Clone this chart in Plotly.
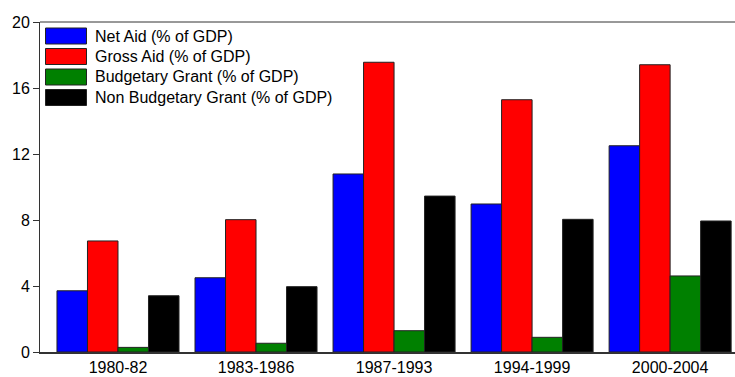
import plotly.graph_objects as go

categories = ["1980-82", "1983-1986", "1987-1993", "1994-1999", "2000-2004"]
series_names = ["Net Aid (% of GDP)", "Gross Aid (% of GDP)",
                "Budgetary Grant (% of GDP)", "Non Budgetary Grant (% of GDP)"]
net_aid = [3.71, 4.50, 10.79, 8.97, 12.50]
gross_aid = [6.73, 8.02, 17.56, 15.29, 17.41]
budgetary_grant = [0.28, 0.53, 1.29, 0.89, 4.61]
non_budgetary_grant = [3.41, 3.96, 9.45, 8.04, 7.94]
y_ticks = [0, 4, 8, 12, 16, 20]

colors = ["#0000FF", "#FF0000", "#008000", "#000000"]
values = [net_aid, gross_aid, budgetary_grant, non_budgetary_grant]

FONT = "Liberation Sans, Arial, sans-serif"
W, H = 735, 377
ML, MR, MT, MB = 40, 0, 22, 25
PW, PH = W - ML - MR, H - MT - MB

x_pos = list(range(len(categories)))

fig = go.Figure()
for name, vals, col in zip(series_names, values, colors):
    fig.add_trace(go.Bar(
        x=x_pos, y=vals, name=name,
        marker=dict(color=col, line=dict(color="#222222", width=1)),
        showlegend=False,
    ))

# custom legend (large swatches like the reference)
def px_x(p):
    return (p - ML) / PW

def px_y(p):
    return (H - MB - p) / PH

row_top = [28, 48.5, 69, 89.5]
for name, col, top in zip(series_names, colors, row_top):
    fig.add_shape(type="rect", xref="paper", yref="paper",
                  x0=px_x(45.5), x1=px_x(86.5), y0=px_y(top), y1=px_y(top + 16),
                  fillcolor=col, line=dict(color="#222222", width=1), layer="above")
    fig.add_annotation(xref="paper", yref="paper", x=px_x(93), y=px_y(top + 8),
                       text=name, showarrow=False, xanchor="left", yanchor="middle",
                       font=dict(family=FONT, size=16, color="black"))

# top frame line (no right border in the reference)
fig.add_shape(type="line", xref="paper", yref="paper", x0=0, x1=1.01, y0=1, y1=1,
              line=dict(color="#333333", width=1), layer="above")

fig.update_layout(
    width=W, height=H,
    margin=dict(l=ML, r=MR, t=MT, b=MB),
    paper_bgcolor="white", plot_bgcolor="white",
    barmode="group", bargap=0.116, bargroupgap=0,
    font=dict(family=FONT, size=16, color="black"),
    showlegend=False,
)
fig.update_xaxes(
    tickvals=x_pos, ticktext=categories, range=[-0.565, 4.47],
    showline=True, linecolor="#333333", linewidth=1.5, mirror=False,
    ticks="", showgrid=False, zeroline=False,
    tickfont=dict(family=FONT, size=16, color="black"),
)
fig.update_yaxes(
    range=[0, 20], tickvals=y_ticks,
    showline=True, linecolor="#333333", linewidth=1, mirror=False,
    ticks="outside", ticklen=6, tickcolor="#333333",
    showgrid=False, zeroline=False,
    tickfont=dict(family=FONT, size=16, color="black"),
)

fig.write_html("out.html")
